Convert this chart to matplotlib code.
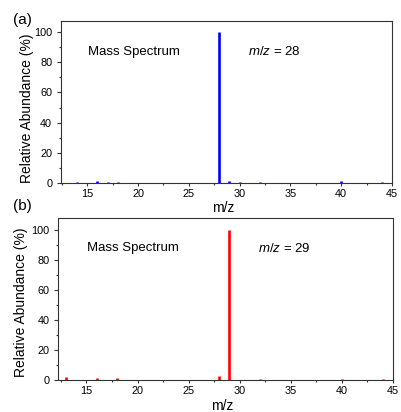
import matplotlib
matplotlib.use("Agg")
import matplotlib.pyplot as plt
from matplotlib.ticker import MultipleLocator

plt.rcParams['font.family'] = ['Liberation Sans', 'DejaVu Sans']
plt.rcParams['mathtext.fontset'] = 'custom'
plt.rcParams['mathtext.rm'] = 'Liberation Sans'
plt.rcParams['mathtext.it'] = 'Liberation Sans:italic'

# Spectrum (a): m/z 28
mz_a = [14, 16, 17, 18, 20, 28, 29, 30, 32, 40, 44]
abund_a = [0.4, 1.3, 0.4, 0.8, 0.3, 100, 1.3, 0.5, 0.8, 1.3, 0.5]

# Spectrum (b): m/z 29
mz_b = [13, 14.4, 16, 17, 18, 28, 29, 31, 32, 40, 44]
abund_b = [1.8, 0.2, 1.2, 0.3, 1.2, 2.5, 100, 0.3, 0.5, 1.0, 0.5]

xticks = [15, 20, 25, 30, 35, 40, 45]
yticks = [0, 20, 40, 60, 80, 100]

W, H = 402, 412
fig = plt.figure(figsize=(W / 100, H / 100), dpi=100)


def frac(l, t, r, b):
    return [l / W, 1 - b / H, (r - l) / W, (b - t) / H]


panels = [
    dict(rect=frac(61, 20.7, 392, 183), mz=mz_a, ab=abund_a, color='#0000ff',
         xlim=(12.41, 45), ylim=(0, 107.5), ms=(15.07, 87), note=(30.83, 87),
         value='28', ylab=(-0.103, 0.46), xlab=(0.49, -0.154)),
    dict(rect=frac(58.5, 218, 393, 380), mz=mz_b, ab=abund_b, color='#ff0000',
         xlim=(12.27, 45), ylim=(0, 108), ms=(15.02, 88), note=(31.76, 88),
         value='29', ylab=(-0.113, 0.478), xlab=(0.49, -0.16)),
]

for p in panels:
    ax = fig.add_axes(p['rect'])
    ax.vlines(p['mz'], 0, p['ab'], colors=p['color'], linewidth=1.9)
    ax.set_xlim(*p['xlim'])
    ax.set_ylim(*p['ylim'])
    ax.set_xticks(xticks)
    ax.set_yticks(yticks)
    ax.xaxis.set_minor_locator(MultipleLocator(2.5))
    ax.yaxis.set_minor_locator(MultipleLocator(10))
    ax.tick_params(axis='both', which='both', direction='out', color='#333333',
                   width=0.8, labelsize=7.8, top=False, right=False)
    ax.tick_params(axis='x', which='major', length=2.5, pad=1.5)
    ax.tick_params(axis='y', which='major', length=2.8, pad=3.5)
    ax.tick_params(axis='both', which='minor', length=1.5)
    for s in ax.spines.values():
        s.set_color('#333333')
        s.set_linewidth(0.8)
    ax.set_xlabel('m/z', fontsize=10, va='center')
    ax.xaxis.set_label_coords(*p['xlab'])
    ax.set_ylabel('Relative Abundance (%)', fontsize=10, va='center')
    ax.yaxis.set_label_coords(*p['ylab'])
    ax.text(p['ms'][0], p['ms'][1], 'Mass Spectrum', fontsize=9.5,
            ha='left', va='center')
    ax.text(p['note'][0], p['note'][1], r'$m/z$ = ' + p['value'], fontsize=9.5,
            ha='left', va='center')

fig.text(22 / W, 1 - 20 / H, '(a)', fontsize=11, ha='center', va='center')
fig.text(22 / W, 1 - 206 / H, '(b)', fontsize=11, ha='center', va='center')

fig.savefig('out.png', dpi=100)
